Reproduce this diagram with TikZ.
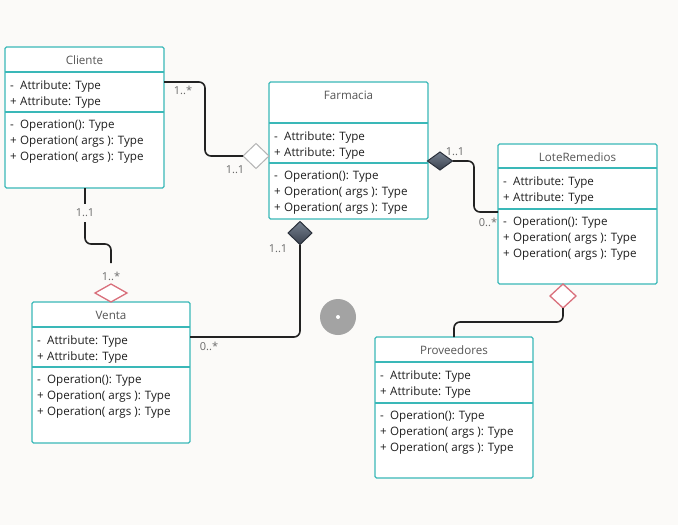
\documentclass[tikz,border=0pt]{standalone}
\usepackage{fontspec}
\setmainfont{Open Sans}
\usetikzlibrary{shapes.geometric,calc}
\definecolor{bgcol}{HTML}{FBFAF8}
\definecolor{teal}{HTML}{3AB8B8}
\definecolor{titlecol}{HTML}{555555}
\definecolor{bodycol}{HTML}{1E1E1E}
\definecolor{labcol}{HTML}{6A6A6A}
\definecolor{pinkcol}{HTML}{D9707C}
\definecolor{hollowcol}{HTML}{B4B4B4}
\definecolor{darktop}{HTML}{75808F}
\definecolor{darkbot}{HTML}{3A414E}
\definecolor{darkedge}{HTML}{2A303B}
\definecolor{wirecol}{HTML}{222222}
\definecolor{dotcol}{HTML}{A3A3A3}

\newcommand{\vis}[1]{\makebox[10pt][l]{#1}}

\tikzset{
  classbox/.style={draw=teal, line width=1.4pt, fill=white, rounded corners=1.5pt,
    inner sep=0pt, outer sep=0pt, anchor=north west},
  divider/.style={draw=teal, line width=1.4pt},
  titletext/.style={font=\fontsize{11.6}{13}\selectfont, text=titlecol, anchor=center, inner sep=0pt},
  bodytext/.style={font=\fontsize{11.6}{13}\selectfont, text=bodycol, anchor=west, inner sep=0pt},
  mult/.style={font=\fontsize{11}{13}\selectfont, text=labcol, inner sep=0pt},
  wire/.style={draw=wirecol, line width=1.6pt, rounded corners=6pt},
  hollowdia/.style={diamond, draw=hollowcol, fill=white, line width=1pt, inner sep=0pt, outer sep=0pt},
  pinkdia/.style={diamond, draw=pinkcol, fill=white, line width=1.3pt, inner sep=0pt, outer sep=0pt},
  darkdia/.style={diamond, draw=darkedge, top color=darktop, bottom color=darkbot,
    line width=1pt, inner sep=0pt, outer sep=0pt},
}

% one UML class: name, left, top, right, bottom, header line y, section line y, title
\newcommand{\umlclass}[8]{%
  \node[classbox, minimum width={(#4-#2)*1pt}, minimum height={(#5-#3)*1pt}] (#1) at (#2,#3) {};
  \draw[divider] (#2,#6) -- (#4,#6);
  \draw[divider] (#2,#7) -- (#4,#7);
  \node[titletext] (#1-title) at ({(#2+#4)/2},#3+13.5) {#8};
  \node[bodytext] (#1-a1) at (#2+5,#6+14) {\vis{-}Attribute: Type};
  \node[bodytext] (#1-a2) at (#2+5,#6+30) {\vis{+}Attribute: Type};
  \node[bodytext] (#1-o1) at (#2+5,#7+14) {\vis{-}Operation(): Type};
  \node[bodytext] (#1-o2) at (#2+5,#7+30) {\vis{+}Operation( args ): Type};
  \node[bodytext] (#1-o3) at (#2+5,#7+46) {\vis{+}Operation( args ): Type};
}

\begin{document}
\begin{tikzpicture}[x=1pt, y=-1pt]
\fill[bgcol] (0,0) rectangle (678,525);
\useasboundingbox (0,0) rectangle (678,525);

% classes
\umlclass{cliente}{5}{47}{164}{188}{72}{112}{Cliente}
\umlclass{farmacia}{269}{82}{428}{219}{123}{163}{Farmacia}
\umlclass{lote}{498}{144}{657}{284}{168}{209}{LoteRemedios}
\umlclass{venta}{32}{302}{190}{443}{327}{367}{Venta}
\umlclass{prov}{375}{337}{533}{478}{362}{403}{Proveedores}

% association ends
\node[hollowdia, minimum width=26pt, minimum height=25pt] (aggF) at (256,156) {};
\node[pinkdia, minimum width=32pt, minimum height=18pt] (aggV) at (111,293) {};
\node[darkdia, minimum width=24pt, minimum height=23pt] (compFV) at (300,233) {};
\node[darkdia, minimum width=25pt, minimum height=18pt] (compFL) at (440,161) {};
\node[pinkdia, minimum width=26pt, minimum height=24pt] (aggL) at (563,296) {};

\coordinate (cliR) at (164,82);
\coordinate (cliB) at (85,188);
\coordinate (ventaEnd) at (111,263);
\coordinate (ventaR) at (190,337);
\coordinate (loteL) at (498,212);
\coordinate (provT) at (454,337);

% connectors
\draw[wire] (cliR) -- (205,82) -- (205,156) -- (aggF.west);
\draw[wire] (cliB) -- (85,244) -- (111,244) -- (ventaEnd);
\draw[wire] (ventaR) -- (300,337) -- (compFV.south);
\draw[wire] (compFL.east) -- (474,161) -- (474,212) -- (loteL);
\draw[wire] (aggL.south) -- (563,322) -- (454,322) -- (provT);

% multiplicities
\node[mult] (m1) at (183,90) {1..*};
\node[mult] (m2) at (235,170) {1..1};
\node[mult, fill=bgcol, inner ysep=5pt, inner xsep=2pt] (m3) at (85,213) {1..1};
\node[mult] (m4) at (111,276) {1..*};
\node[mult] (m5) at (278,249) {1..1};
\node[mult] (m6) at (209,346) {0..*};
\node[mult] (m7) at (455,152) {1..1};
\node[mult] (m8) at (488,222) {0..*};

% grey handle
\fill[dotcol] (338,317) circle (18pt);
\fill[white] (338,317) circle (2pt);
\end{tikzpicture}
\end{document}
